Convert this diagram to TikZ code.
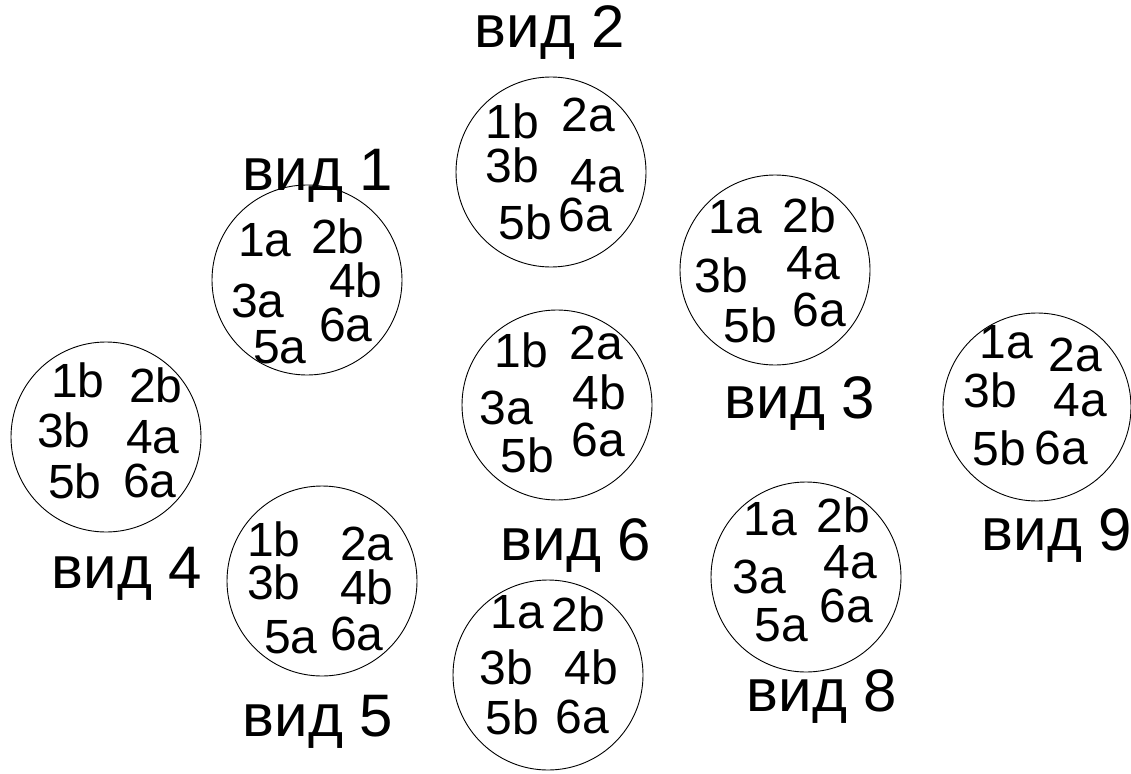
\documentclass[tikz,border=0pt]{standalone}
\usepackage{fontspec}
\setmainfont{Liberation Sans}
\begin{document}
\begin{tikzpicture}[x=1pt,y=-1pt,
  ring/.style={draw,line width=0.9pt},
  pin/.style={inner sep=0pt,text depth=0pt,font=\fontsize{48}{48}\selectfont},
  vid/.style={inner sep=0pt,text depth=0pt,font=\fontsize{60}{60}\selectfont}]
\useasboundingbox (0,0) rectangle (1131,773);
% circle 2
\draw[ring] (551,172) circle (95);
\node[pin] (c2a) at (512,121) {1b};
\node[pin] (c2b) at (588,115) {2a};
\node[pin] (c2c) at (512,165) {3b};
\node[pin] (c2d) at (597,176) {4a};
\node[pin] (c2e) at (525,222) {5b};
\node[pin] (c2f) at (585,215) {6a};
\node[vid] (l2) at (550,27) {вид 2};
% circle 1
\draw[ring] (307,280) circle (95);
\node[pin] (c1a) at (265,240) {1a};
\node[pin] (c1b) at (338,236) {2b};
\node[pin] (c1c) at (258,301) {3a};
\node[pin] (c1d) at (356,280) {4b};
\node[pin] (c1e) at (280,347) {5a};
\node[pin] (c1f) at (346,325) {6a};
\node[vid] (l1) at (318,170) {вид 1};
% circle 3
\draw[ring] (775,270) circle (95);
\node[pin] (c3a) at (735,217) {1a};
\node[pin] (c3b) at (809,215) {2b};
\node[pin] (c3c) at (721,275) {3b};
\node[pin] (c3d) at (813,263) {4a};
\node[pin] (c3e) at (750,325) {5b};
\node[pin] (c3f) at (819,310) {6a};
\node[vid] (l3) at (800,398) {вид 3};
% circle 4
\draw[ring] (106,437) circle (95);
\node[pin] (c4a) at (78,380) {1b};
\node[pin] (c4b) at (156,385) {2b};
\node[pin] (c4c) at (64,430) {3b};
\node[pin] (c4d) at (153,437) {4a};
\node[pin] (c4e) at (75,481) {5b};
\node[pin] (c4f) at (150,481) {6a};
\node[vid] (l4) at (127,568) {вид 4};
% circle 6
\draw[ring] (557,405) circle (95);
\node[pin] (c6a) at (521,350) {1b};
\node[pin] (c6b) at (596,343) {2a};
\node[pin] (c6c) at (506,408) {3a};
\node[pin] (c6d) at (599,392) {4b};
\node[pin] (c6e) at (527,455) {5b};
\node[pin] (c6f) at (598,440) {6a};
\node[vid] (l6) at (576,540) {вид 6};
% circle 9
\draw[ring] (1037,407) circle (94);
\node[pin] (c9a) at (1006,342) {1a};
\node[pin] (c9b) at (1075,355) {2a};
\node[pin] (c9c) at (990,390) {3b};
\node[pin] (c9d) at (1080,400) {4a};
\node[pin] (c9e) at (999,448) {5b};
\node[pin] (c9f) at (1061,448) {6a};
\node[vid] (l9) at (1057,530) {вид 9};
% circle 5
\draw[ring] (322,581) circle (95);
\node[pin] (c5a) at (274,539) {1b};
\node[pin] (c5b) at (367,544) {2a};
\node[pin] (c5c) at (274,582) {3b};
\node[pin] (c5d) at (367,587) {4b};
\node[pin] (c5e) at (291,637) {5a};
\node[pin] (c5f) at (357,634) {6a};
\node[vid] (l5) at (318,716) {вид 5};
% circle 7
\draw[ring] (548,675) circle (95);
\node[pin] (c7a) at (517,612) {1a};
\node[pin] (c7b) at (578,614) {2b};
\node[pin] (c7c) at (506,667) {3b};
\node[pin] (c7d) at (591,667) {4b};
\node[pin] (c7e) at (512,717) {5b};
\node[pin] (c7f) at (582,717) {6a};
% circle 8
\draw[ring] (806,577) circle (95);
\node[pin] (c8a) at (770,519) {1a};
\node[pin] (c8b) at (843,515) {2b};
\node[pin] (c8c) at (759,577) {3a};
\node[pin] (c8d) at (850,562) {4a};
\node[pin] (c8e) at (781,625) {5a};
\node[pin] (c8f) at (846,606) {6a};
\node[vid] (l8) at (822,691) {вид 8};
\end{tikzpicture}
\end{document}
